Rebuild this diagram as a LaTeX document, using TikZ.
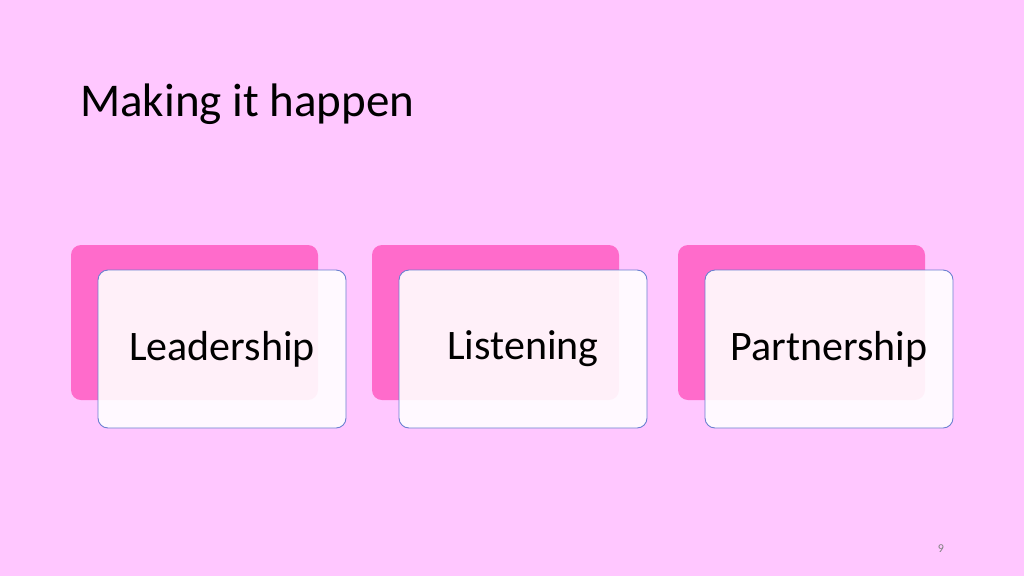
\documentclass[tikz,border=0pt]{standalone}
\usepackage{fontspec}
\setmainfont{Carlito}
\usetikzlibrary{positioning}
\definecolor{bgpink}{HTML}{FFC7FF}
\definecolor{backpink}{HTML}{FF6BCB}
\definecolor{edgeblue}{HTML}{6A7FD0}
\tikzset{
  backcard/.style={fill=backpink, rounded corners=10pt},
  frontcard/.style={draw=edgeblue, line width=0.9pt, fill=white, fill opacity=0.9,
    text opacity=1, rounded corners=10pt, minimum width=248pt, minimum height=158pt,
    font=\fontsize{42}{48}\selectfont, inner sep=0pt}
}
\begin{document}
\begin{tikzpicture}[x=1pt,y=-1pt]
    \fill [bgpink] (0,0) rectangle (1024,576);
    \useasboundingbox (0,0) rectangle (1024,576);
    \node [anchor=base west, inner sep=0pt, font=\fontsize{47}{54}\selectfont] (title) at (80,116) {Making it happen};
    % cards
    \fill [backcard] (71,245) rectangle (318,400);
    \fill [backcard] (372,245) rectangle (619,400);
    \fill [backcard] (678,245) rectangle (925,400);
    \node [frontcard] (leadership) at (222,349) {Leadership};
    \node [frontcard] (listening) at (523,349) {Listening};
    \node [frontcard] (partnership) at (829,349) {Partnership};
    \node [text=gray, font=\fontsize{12}{14}\selectfont] (pagenum) at (941,549) {9};
\end{tikzpicture}
\end{document}
